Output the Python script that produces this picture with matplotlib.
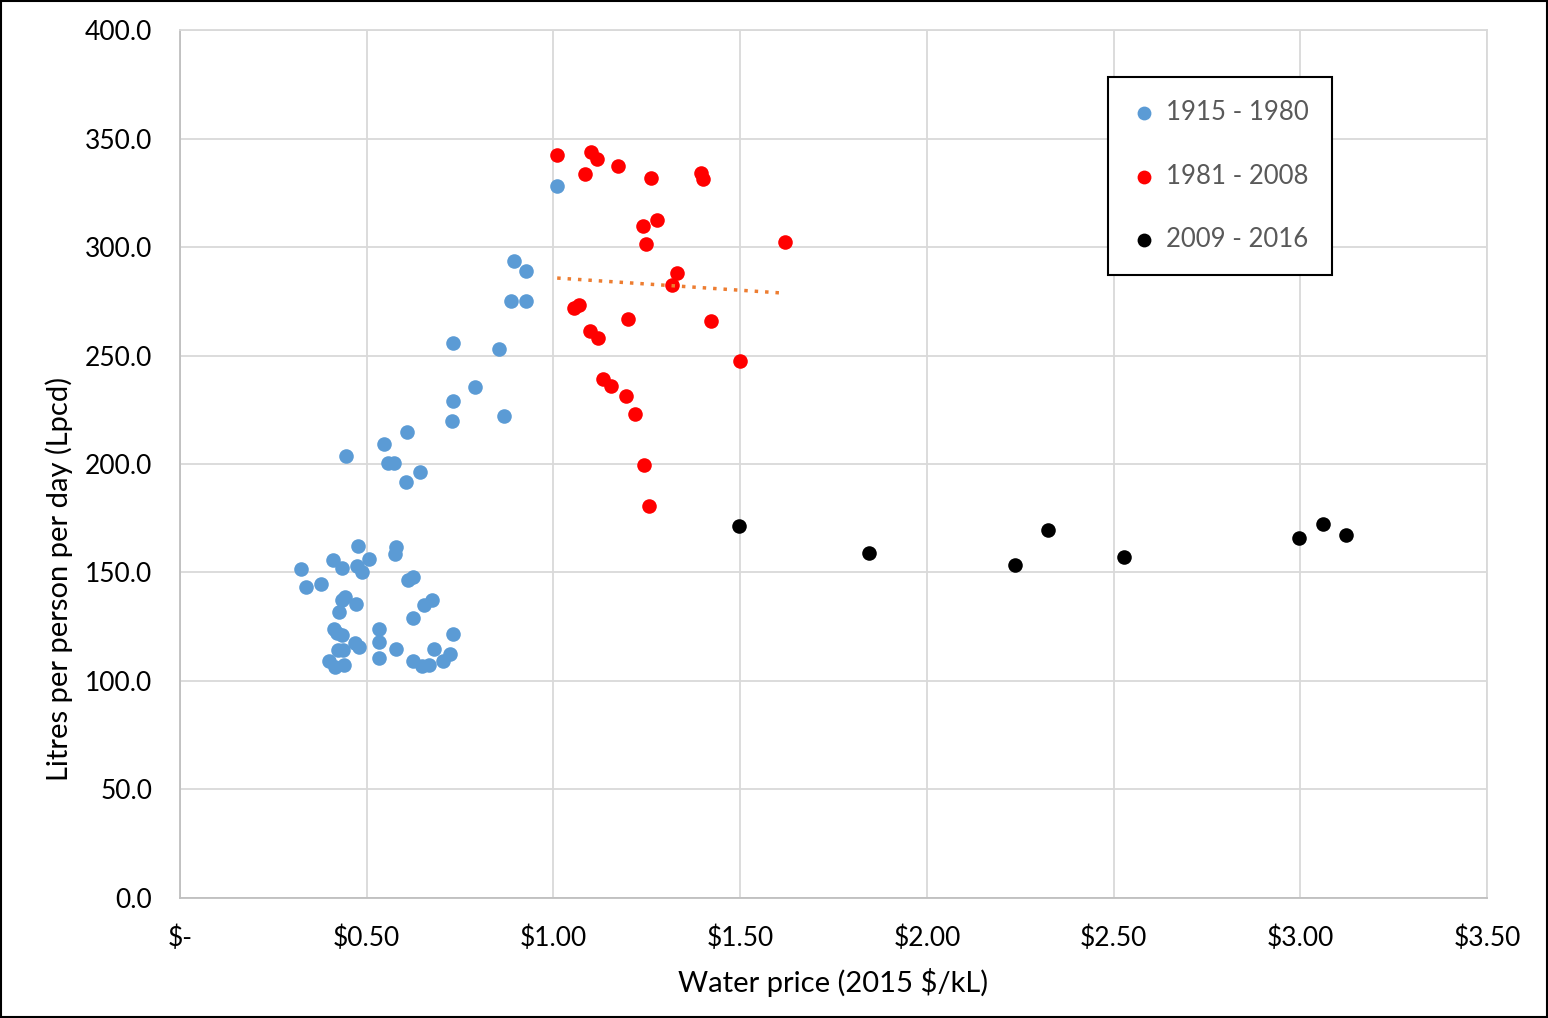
import numpy as np
import matplotlib.pyplot as plt
from matplotlib.patches import Rectangle

# water price ($/kL, 2015 dollars) vs litres per person per day
price_1915 = [0.728, 0.608, 0.546, 0.445, 0.557, 0.573, 0.643, 0.605, 0.477, 0.578,
              0.576, 0.410, 0.434, 0.506, 0.474, 0.487, 0.324, 0.337, 0.378, 0.624,
              0.611, 0.442, 0.434, 0.471, 0.426, 0.675, 0.653, 0.624, 0.412, 0.420,
              0.434, 0.533, 0.533, 0.469, 0.479, 0.423, 0.436, 0.731, 0.578, 0.680,
              0.533, 0.399, 0.415, 0.439, 0.624, 0.648, 0.667, 0.704, 0.723, 0.894,
              0.927, 0.886, 0.927, 0.731, 0.854, 0.790, 0.731, 0.868, 1.010]
lpcd_1915 = [219.8, 214.7, 209.2, 203.7, 200.5, 200.5, 196.3, 191.7, 162.2, 161.8,
             158.5, 155.8, 152.1, 156.2, 153.0, 150.2, 151.6, 143.3, 144.7, 147.9,
             146.5, 138.7, 137.3, 135.5, 131.8, 137.3, 135.0, 129.0, 124.0, 122.1,
             121.2, 124.0, 118.0, 117.5, 115.7, 114.3, 114.3, 121.7, 114.7, 114.7,
             110.6, 109.2, 106.5, 107.4, 109.2, 106.9, 107.4, 109.2, 112.4, 293.5,
             288.9, 275.1, 275.1, 255.8, 253.0, 235.5, 229.0, 222.1, 328.1]

price_1981 = [1.010, 1.101, 1.117, 1.085, 1.173, 1.261, 1.395, 1.401, 1.240, 1.277,
              1.248, 1.620, 1.331, 1.318, 1.055, 1.068, 1.200, 1.422, 1.098, 1.119,
              1.500, 1.133, 1.154, 1.194, 1.218, 1.243, 1.256]
lpcd_1981 = [342.4, 343.8, 340.6, 333.6, 337.3, 331.8, 334.1, 331.3, 309.7, 312.4,
             301.4, 302.3, 288.0, 282.5, 271.9, 273.3, 266.8, 265.9, 261.3, 258.1,
             247.5, 239.2, 235.9, 231.3, 223.0, 199.5, 180.6]

price_2009 = [1.497, 1.845, 2.236, 2.325, 2.528, 2.997, 3.061, 3.123]
lpcd_2009 = [171.4, 159.0, 153.5, 169.6, 157.0, 166.0, 172.4, 167.3]

series_labels = ['1915 - 1980', '1981 - 2008', '2009 - 2016']

xticks = np.arange(0, 3.51, 0.5)
xtick_labels = ['$-', '$0.50', '$1.00', '$1.50', '$2.00', '$2.50', '$3.00', '$3.50']
yticks = np.arange(0, 401, 50)

plt.rcParams['font.family'] = ['Lato', 'DejaVu Sans']

fig = plt.figure(figsize=(15.48, 10.18), dpi=100)
ax = fig.add_axes([0.1163, 0.1179, 0.8443, 0.8526])

ms = 110
ax.scatter(price_1915, lpcd_1915, s=ms, color='#5B9BD5', label=series_labels[0], zorder=3, linewidths=0)
ax.scatter(price_1981, lpcd_1981, s=ms, color='#FF0000', label=series_labels[1], zorder=3, linewidths=0)
ax.scatter(price_2009, lpcd_2009, s=ms, color='#000000', label=series_labels[2], zorder=3, linewidths=0)

# linear trend through the 1981-2008 points
coef = np.polyfit(price_1981, lpcd_1981, 1)
tx = np.array([min(price_1981), max(price_1981)])
ax.plot(tx, np.polyval(coef, tx), linestyle=(0, (1, 2)), color='#ED7D31', lw=2.5, zorder=4)

ax.set_xlim(0, 3.5)
ax.set_ylim(0, 400)
ax.set_xticks(xticks)
ax.set_xticklabels(xtick_labels)
ax.set_yticks(yticks)
ax.set_yticklabels([f'{v:.1f}' for v in yticks])
ax.tick_params(length=0, labelsize=19, colors='black')
ax.tick_params(axis='x', pad=20)
ax.tick_params(axis='y', pad=20)
ax.grid(color='#D9D9D9', lw=1.3)
ax.set_axisbelow(True)
for s in ['top', 'right']:
    ax.spines[s].set_color('#D9D9D9')
    ax.spines[s].set_linewidth(1.3)
for s in ['left', 'bottom']:
    ax.spines[s].set_color('#BFBFBF')
    ax.spines[s].set_linewidth(1.3)

ax.set_xlabel('Water price (2015 $/kL)', fontsize=21, labelpad=12)
ax.set_ylabel('Litres per person per day (Lpcd)', fontsize=21)
# y title sits a little below the middle of the axis
ax.yaxis.set_label_coords(-0.082, 0.3675)

leg = ax.legend(loc='upper left', bbox_to_anchor=(0.710, 0.946), fontsize=18.5,
                frameon=True, fancybox=False, edgecolor='black', framealpha=1,
                markerscale=0.95, handletextpad=0.35, labelspacing=1.5,
                borderpad=0.9, handlelength=1.0, borderaxespad=0)
leg.get_frame().set_linewidth(1.5)
for t in leg.get_texts():
    t.set_color('#595959')

fig.patches.append(Rectangle((0.0005, 0.0008), 0.999, 0.9985, transform=fig.transFigure,
                             fill=False, edgecolor='black', lw=1.5))

fig.savefig('out.png', dpi=100)
